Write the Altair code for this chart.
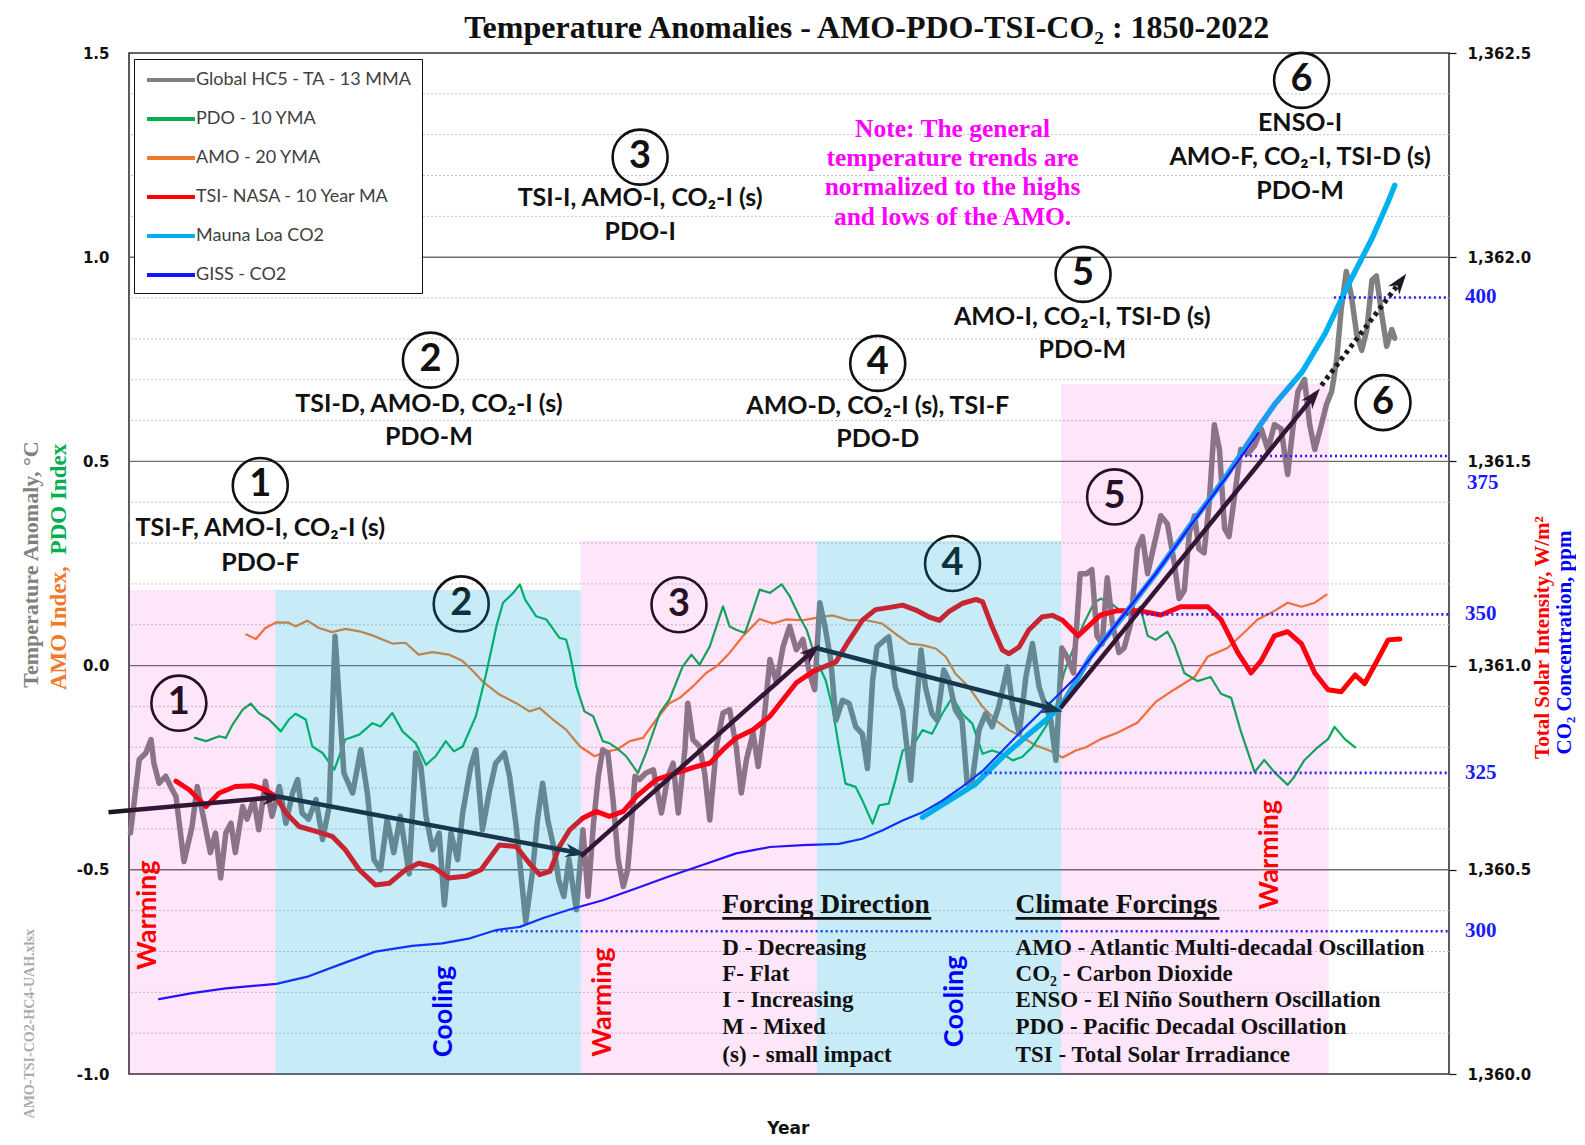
import math
import altair as alt
import pandas as pd

# ---------------- data ----------------
HC5 = [(1850.2,-0.41),(1851.4,-0.23),(1852.3,-0.214),(1853.0,-0.181),(1853.4,-0.239),(1854.1,-0.288),(1855.0,-0.271),
 (1855.9,-0.304),(1856.4,-0.32),(1857.5,-0.48),(1858.6,-0.394),(1859.3,-0.296),(1860.2,-0.376),(1861.1,-0.458),
 (1861.8,-0.41),(1862.5,-0.52),(1863.2,-0.41),(1863.9,-0.386),(1864.5,-0.458),(1865.5,-0.345),(1866.1,-0.376),
 (1867.0,-0.328),(1867.7,-0.402),(1868.6,-0.283),(1869.5,-0.369),(1870.5,-0.296),(1871.4,-0.386),(1872.3,-0.312),
 (1873.0,-0.279),(1873.6,-0.361),(1874.5,-0.376),(1875.5,-0.328),(1876.4,-0.426),(1877.3,-0.345),(1878.1,0.072),
 (1878.6,-0.067),(1879.3,-0.263),(1880.5,-0.312),(1881.6,-0.206),(1882.5,-0.312),(1883.4,-0.475),(1884.3,-0.5),
 (1885.2,-0.376),(1886.1,-0.458),(1887.0,-0.369),(1888.2,-0.51),(1889.1,-0.214),(1889.8,-0.247),(1890.5,-0.369),
 (1891.4,-0.451),(1892.3,-0.41),(1893.0,-0.586),(1893.9,-0.41),(1894.8,-0.475),(1895.5,-0.361),(1896.6,-0.247),
 (1897.3,-0.206),(1898.2,-0.402),(1899.1,-0.312),(1900.0,-0.239),(1901.2,-0.214),(1901.9,-0.271),(1902.8,-0.394),
 (1904.1,-0.627),(1905.0,-0.508),(1905.7,-0.378),(1906.4,-0.288),(1907.1,-0.378),(1908.0,-0.451),(1908.6,-0.525),
 (1909.3,-0.565),(1910.0,-0.475),(1910.4,-0.525),(1911.0,-0.598),(1911.9,-0.402),(1912.6,-0.565),(1913.3,-0.394),
 (1914.0,-0.271),(1914.6,-0.206),(1915.3,-0.214),(1916.0,-0.328),(1916.7,-0.475),(1917.4,-0.541),(1918.0,-0.5),
 (1918.5,-0.394),(1919.0,-0.271),(1919.6,-0.279),(1920.5,-0.263),(1921.5,-0.255),(1922.6,-0.361),(1923.5,-0.271),
 (1924.2,-0.239),(1924.9,-0.361),(1925.8,-0.206),(1926.2,-0.092),(1926.9,-0.181),(1927.8,-0.198),(1928.5,-0.263),
 (1929.2,-0.378),(1930.1,-0.198),(1931.0,-0.116),(1931.9,-0.108),(1932.8,-0.198),(1933.5,-0.312),(1934.2,-0.23),
 (1935.1,-0.165),(1935.8,-0.247),(1936.5,-0.149),(1937.4,0.015),(1938.3,-0.042),(1939.2,0.047),(1940.1,0.096),
 (1941.0,0.039),(1941.9,0.064),(1942.8,-0.018),(1943.5,-0.059),(1944.2,0.154),(1944.9,0.096),(1945.7,0.013),
 (1946.4,-0.134),(1947.3,-0.085),(1948.2,-0.093),(1949.1,-0.15),(1950.0,-0.167),(1950.7,-0.252),(1951.4,-0.036),
 (1952.0,0.046),(1953.0,0.062),(1953.6,0.07),(1954.5,-0.052),(1955.5,-0.109),(1956.6,-0.281),(1957.3,-0.118),
 (1958.0,0.038),(1958.6,-0.052),(1959.5,-0.118),(1960.2,-0.134),(1961.1,-0.011),(1961.8,-0.036),(1962.7,-0.109),
 (1963.6,-0.134),(1964.3,-0.289),(1965.0,-0.281),(1965.9,-0.158),(1966.8,-0.118),(1967.7,-0.15),(1968.6,-0.101),
 (1969.8,-0.003),(1970.5,-0.101),(1971.4,-0.167),(1972.3,-0.028),(1973.2,0.054),(1974.1,-0.052),(1975.0,-0.101),
 (1975.7,-0.134),(1976.4,-0.232),(1977.2,0.043),(1977.9,0.022),(1978.8,-0.018),(1979.7,0.225),(1980.6,0.225),
 (1981.3,0.235),(1982.0,0.073),(1982.7,0.053),(1983.4,0.215),(1984.1,0.103),(1985.0,0.032),(1985.7,0.043),
 (1986.6,0.103),(1987.5,0.286),(1988.2,0.316),(1988.9,0.225),(1989.8,0.296),(1990.7,0.367),(1991.6,0.347),
 (1992.5,0.255),(1993.2,0.164),(1993.9,0.184),(1994.6,0.326),(1995.3,0.367),(1995.9,0.286),(1996.6,0.276),
 (1997.3,0.397),(1998.0,0.59),(1998.7,0.529),(1999.4,0.336),(2000.0,0.316),(2000.7,0.407),(2001.6,0.529),
 (2002.6,0.519),(2003.5,0.539),(2004.4,0.58),(2005.3,0.529),(2006.2,0.59),(2007.1,0.58),(2008.0,0.468),
 (2008.7,0.58),(2009.4,0.671),(2010.3,0.701),(2011.0,0.59),(2011.7,0.529),(2012.6,0.59),(2013.3,0.64),
 (2014.0,0.671),(2014.7,0.752),(2015.3,0.873),(2016.0,0.965),(2016.7,0.904),(2017.4,0.813),(2018.1,0.772),
 (2018.8,0.823),(2019.5,0.944),(2020.1,0.954),(2020.8,0.863),(2021.5,0.782),(2022.2,0.823),(2022.6,0.802)]

PDO = [(1859.0,-0.177),(1860.5,-0.185),(1862.3,-0.173),(1863.2,-0.177),(1864.1,-0.145),(1865.5,-0.108),(1866.6,-0.093),
 (1867.7,-0.116),(1869.1,-0.132),(1870.7,-0.161),(1871.8,-0.132),(1872.7,-0.118),(1874.1,-0.132),(1875.0,-0.198),
 (1876.4,-0.214),(1878.0,-0.255),(1879.5,-0.181),(1881.4,-0.169),(1883.2,-0.141),(1884.3,-0.149),(1885.9,-0.116),
 (1887.3,-0.161),(1889.1,-0.19),(1890.5,-0.243),(1891.8,-0.222),(1893.2,-0.185),(1894.3,-0.21),(1895.5,-0.198),
 (1897.3,-0.124),(1898.7,-0.02),(1900.1,0.096),(1901.0,0.154),(1902.4,0.178),(1903.3,0.199),(1904.0,0.162),
 (1905.5,0.121),(1906.9,0.113),(1908.7,0.068),(1909.6,0.064),(1910.1,0.031),(1911.0,-0.051),(1912.1,-0.112),
 (1913.3,-0.124),(1914.6,-0.185),(1915.5,-0.19),(1916.5,-0.202),(1917.8,-0.222),(1919.4,-0.263),(1920.5,-0.214),
 (1922.4,-0.116),(1923.7,-0.083),(1925.5,-0.002),(1926.7,0.027),(1927.8,0.002),(1929.2,0.047),(1930.1,0.096),
 (1931.0,0.145),(1931.9,0.096),(1932.8,0.088),(1934.0,0.08),(1935.1,0.137),(1936.0,0.186),(1937.4,0.178),
 (1939.0,0.199),(1940.1,0.17),(1941.5,0.117),(1942.4,0.088),(1943.7,0.015),(1945.0,-0.036),(1945.9,-0.101),
 (1946.8,-0.199),(1947.7,-0.289),(1949.1,-0.297),(1950.0,-0.33),(1951.4,-0.387),(1952.3,-0.342),(1953.6,-0.338),
 (1954.5,-0.281),(1955.5,-0.208),(1956.8,-0.199),(1958.2,-0.158),(1959.5,-0.167),(1960.9,-0.118),(1962.3,-0.077),
 (1963.6,-0.118),(1965.0,-0.142),(1966.4,-0.216),(1967.7,-0.208),(1969.1,-0.216),(1970.5,-0.232),(1971.8,-0.224),
 (1973.2,-0.199),(1975.0,-0.15),(1976.4,-0.101),(1977.5,-0.018),(1978.8,0.043),(1980.2,0.103),(1981.6,0.154),
 (1982.5,0.164),(1983.8,0.154),(1985.2,0.134),(1987.0,0.124),(1987.9,0.144),(1988.9,0.073),(1990.0,0.063),
 (1991.6,0.083),(1992.5,0.053),(1993.9,-0.018),(1995.7,-0.038),(1997.5,-0.028),(1998.9,-0.069),(2000.3,-0.079),
 (2001.6,-0.16),(2003.5,-0.261),(2004.8,-0.231),(2006.2,-0.261),(2008.0,-0.292),(2008.9,-0.272),(2010.3,-0.231),
 (2012.1,-0.2),(2013.5,-0.18),(2014.4,-0.15),(2015.8,-0.18),(2017.2,-0.2)]

AMO = [(1866.0,0.076),(1867.3,0.065),(1868.6,0.092),(1870.1,0.106),(1871.8,0.105),(1872.7,0.096),(1874.3,0.11),
 (1875.9,0.092),(1877.7,0.082),(1879.5,0.09),(1881.4,0.084),(1883.2,0.074),(1885.9,0.054),(1887.7,0.056),
 (1889.5,0.027),(1891.4,0.033),(1893.6,0.027),(1895.5,0.011),(1897.0,-0.015),(1898.3,-0.04),(1900.5,-0.071),
 (1902.8,-0.092),(1904.6,-0.112),(1906.0,-0.104),(1907.8,-0.132),(1909.6,-0.157),(1911.5,-0.198),(1913.5,-0.222),
 (1915.1,-0.21),(1916.5,-0.206),(1918.3,-0.185),(1920.1,-0.177),(1921.9,-0.132),(1923.7,-0.092),(1925.1,-0.079),
 (1926.9,-0.051),(1928.7,-0.018),(1930.1,-0.002),(1931.9,0.031),(1933.7,0.072),(1936.0,0.114),(1937.8,0.103),
 (1939.6,0.113),(1941.9,0.111),(1943.7,0.117),(1945.9,0.123),(1948.2,0.111),(1950.5,0.111),(1952.7,0.103),
 (1954.5,0.078),(1956.4,0.054),(1958.2,0.05),(1960.0,0.042),(1961.4,0.021),(1962.7,-0.02),(1964.5,-0.052),
 (1966.4,-0.101),(1968.2,-0.134),(1970.0,-0.158),(1971.8,-0.175),(1973.6,-0.195),(1975.5,-0.208),(1977.3,-0.225),
 (1979.1,-0.208),(1980.5,-0.2),(1982.5,-0.18),(1984.7,-0.165),(1987.5,-0.14),(1990.0,-0.089),(1992.5,-0.059),
 (1995.3,-0.028),(1997.1,0.022),(1999.8,0.043),(2001.6,0.073),(2003.9,0.113),(2006.2,0.134),(2008.0,0.154),
 (2009.9,0.144),(2011.7,0.154),(2013.3,0.174)]

TSI = [(1856.4,1360.717),(1858.2,1360.696),(1860.5,1360.655),(1862.3,1360.688),(1864.5,1360.704),(1866.8,1360.706),
 (1868.6,1360.696),(1870.1,1360.678),(1871.4,1360.639),(1873.2,1360.606),(1875.5,1360.594),(1877.7,1360.582),
 (1879.5,1360.549),(1881.4,1360.500),(1883.6,1360.463),(1885.5,1360.467),(1887.7,1360.500),(1889.5,1360.516),
 (1891.4,1360.508),(1893.6,1360.480),(1895.9,1360.484),(1898.0,1360.500),(1900.5,1360.561),(1902.8,1360.557),
 (1904.6,1360.516),(1906.0,1360.488),(1907.4,1360.496),(1908.7,1360.557),(1910.1,1360.598),(1911.9,1360.627),
 (1913.7,1360.643),(1915.5,1360.631),(1917.4,1360.643),(1919.2,1360.680),(1921.9,1360.721),(1924.6,1360.737),
 (1927.4,1360.753),(1929.2,1360.761),(1931.0,1360.794),(1932.8,1360.823),(1935.1,1360.843),(1937.4,1360.876),
 (1939.2,1360.917),(1941.0,1360.958),(1943.3,1360.986),(1946.4,1361.009),(1948.2,1361.062),(1950.0,1361.111),
 (1951.8,1361.137),(1953.6,1361.142),(1955.5,1361.148),(1957.3,1361.136),(1959.1,1361.119),(1960.5,1361.111),
 (1961.8,1361.132),(1963.6,1361.152),(1965.5,1361.162),(1966.4,1361.156),(1967.7,1361.095),(1969.1,1361.038),
 (1970.0,1361.029),(1971.4,1361.046),(1972.7,1361.087),(1974.5,1361.119),(1975.9,1361.123),(1977.3,1361.111),
 (1979.4,1361.073),(1982.5,1361.124),(1984.7,1361.134),(1987.9,1361.134),(1990.7,1361.124),(1993.4,1361.144),
 (1997.1,1361.144),(1998.9,1361.113),(2001.2,1361.032),(2003.0,1360.982),(2004.4,1361.012),(2006.2,1361.073),
 (2008.0,1361.083),(2009.9,1361.053),(2011.7,1360.982),(2013.5,1360.941),(2015.3,1360.936),(2017.2,1360.977),
 (2018.5,1360.956),(2019.9,1361.002),(2021.7,1361.063),(2023.3,1361.065)]

MLO = [(1958.2,318.0),(1961.8,320.6),(1965.5,323.3),(1969.1,327.5),(1972.7,331.1),(1975.5,333.8),(1977.3,335.9),
 (1981.1,343.3),(1985.7,349.9),(1990.0,356.4),(1994.8,364.2),(1999.4,371.4),(2003.9,379.3),(2006.2,383.1),
 (2010.0,388.3),(2013.1,394.3),(2016.3,402.1),(2019.5,409.3),(2021.7,415.1),(2022.6,417.7)]

GISS = [(1854.1,289.3),(1858.6,290.25),(1863.2,291.0),(1870.1,291.7),(1874.5,292.9),(1879.1,294.9),(1883.6,296.8),
 (1888.6,297.7),(1892.7,298.1),(1896.5,298.9),(1900.1,300.2),(1903.3,300.7),(1906.5,302.1),(1910.0,303.4),
 (1914.6,304.9),(1919.2,306.8),(1923.7,308.7),(1928.3,310.5),(1932.8,312.3),(1937.4,313.3),(1941.9,313.6),
 (1946.8,313.8),(1950.0,314.6),(1952.7,315.9),(1955.5,317.5),(1958.2,318.8),(1960.9,320.6),(1963.6,322.8),
 (1966.4,325.3),(1969.1,328.5),(1971.8,331.7),(1974.5,334.8),(1976.8,337.4),(1979.1,340.1),(1985.0,349.0),
 (1990.0,356.4),(1995.0,364.4),(2000.0,372.2),(2004.0,378.6)]

CO2_REF_PPM = [300, 325, 350, 375, 400]
CO2_REF_FROM = [1900.0, 1966.0, 1986.0, 2001.5, 2014.3]

T_MAJOR = [-0.5, 0.0, 0.5, 1.0]
T_MINOR = [-0.9, -0.8, -0.7, -0.6, -0.4, -0.3, -0.2, -0.1, 0.1, 0.2, 0.3, 0.4,
           0.6, 0.7, 0.8, 0.9, 1.1, 1.2, 1.3, 1.4]

ARROWS = [(1847.2,-0.359,1870.1,-0.322),(1870.1,-0.32,1911.4,-0.459),(1911.6,-0.467,1943.5,0.04),
          (1943.7,0.043,1976.4,-0.108),(1977.0,-0.104,2011.8,0.665)]
ARROW_DOTTED = [(2012.6,0.686,2023.6,0.946)]

SHADE_FROM = [1850.0, 1870.0, 1911.6, 1943.8, 1977.1]
SHADE_TO = [1870.0, 1911.6, 1943.8, 1977.1, 2013.6]
SHADE_TOP = [0.185, 0.185, 0.305, 0.305, 0.69]
SHADE_KIND = ["Warming", "Cooling", "Warming", "Cooling", "Warming"]

PHASE = ["1", "2", "3", "4", "5", "6"]
UPPER_YEAR = [1867.9, 1891.1, 1919.7, 1952.1, 1980.1, 2009.9]
UPPER_VAL = [0.441, 0.748, 1.245, 0.740, 0.958, 1.433]
LOWER_YEAR = [1856.8, 1895.3, 1925.0, 1962.3, 1984.4, 2021.0]
LOWER_VAL = [-0.092, 0.151, 0.149, 0.250, 0.413, 0.644]

PHASE_TEXT = ["TSI-F, AMO-I, CO\u2082-I (s)", "PDO-F",
              "TSI-D, AMO-D, CO\u2082-I (s)", "PDO-M",
              "TSI-I, AMO-I, CO\u2082-I (s)", "PDO-I",
              "AMO-D, CO\u2082-I (s), TSI-F", "PDO-D",
              "AMO-I, CO\u2082-I, TSI-D (s)", "PDO-M",
              "ENSO-I", "AMO-F, CO\u2082-I, TSI-D (s)", "PDO-M"]
PHASE_TEXT_YEAR = [1867.9, 1867.9, 1890.9, 1890.9, 1919.7, 1919.7, 1952.1, 1952.1,
                   1980.0, 1980.0, 2009.7, 2009.7, 2009.7]
PHASE_TEXT_VAL = [0.337, 0.252, 0.641, 0.559, 1.144, 1.062, 0.636, 0.554,
                  0.854, 0.772, 1.329, 1.245, 1.161]

NOTE = ["Note: The general", "temperature trends are", "normalized to the highs", "and lows of the AMO."]
NOTE_YEAR = 1962.3
NOTE_VAL = [1.314, 1.243, 1.171, 1.099]

HEADERS = ["Forcing Direction", "Climate Forcings"]
HEADER_YEAR = [1930.9, 1970.9]
HEADER_END = [1959.4, 1998.7]
HEADER_VAL = -0.587
UNDERLINE_VAL = -0.619
DIRECTION = ["D - Decreasing", "F- Flat", "I - Increasing", "M - Mixed", "(s) - small impact"]
FORCINGS = ["AMO - Atlantic Multi-decadal Oscillation", "CO\u2082 - Carbon Dioxide",
            "ENSO - El Ni\u00f1o Southern Oscillation", "PDO - Pacific Decadal Oscillation",
            "TSI - Total Solar Irradiance"]
LIST_VAL = [-0.691, -0.755, -0.819, -0.886, -0.953]

TREND_TEXT = ["Warming", "Cooling", "Warming", "Cooling", "Warming"]
TREND_YEAR = [1852.6, 1893.0, 1914.7, 1962.6, 2005.6]
TREND_VAL = [-0.611, -0.847, -0.824, -0.822, -0.463]

TITLE = "Temperature Anomalies - AMO-PDO-TSI-CO\u2082 : 1850-2022"
TITLE_POS = (1950.6, 1.5367)
XTITLE = "Year"
XTITLE_POS = (1939.9, -1.1335)

SERIES = ["Global HC5 - TA - 13 MMA", "PDO - 10 YMA", "AMO - 20 YMA",
          "TSI- NASA - 10 Year MA", "Mauna Loa CO2", "GISS - CO2"]
SERIES_COLORS = ["#808080", "#00b050", "#f07a2a", "#ff0000", "#00b0f0", "#1414ff"]

# ---------------- scales / axes ----------------
W, H = 1320, 1021
X_SCALE = alt.Scale(domain=[1850, 2030], nice=False, zero=False)
T_SCALE = alt.Scale(domain=[-1.0, 1.5], nice=False, zero=False)
TSI_SCALE = alt.Scale(domain=[1360.0, 1362.5], nice=False, zero=False)
CO2_SCALE = alt.Scale(domain=[277.49, 438.57], nice=False, zero=False)
COLOR_SCALE = alt.Scale(domain=SERIES, range=SERIES_COLORS)

SERIF = "Liberation Serif"
SANS = "Lato"
TICKFONT = "DejaVu Sans"

LEGEND = alt.Legend(title=None, orient="none", legendX=5, legendY=6,
                    symbolType="M-0.8,0L4,0", symbolSize=400, symbolStrokeWidth=4,
                    symbolOpacity=1, labelFont=SANS, labelFontSize=18, labelColor="#404040",
                    labelOffset=29, rowPadding=18, padding=9, labelLimit=400,
                    strokeColor="#111111", fillColor="white")

X_AXIS = alt.Axis(values=list(range(1850, 2031, 20)), format="d", grid=True,
                  gridColor="#000000", gridWidth=1.1, ticks=False, domain=False,
                  labelFont=TICKFONT, labelFontSize=15, labelFontWeight="bold", labelColor="#111111",
                  labelPadding=18, title=None)

T_AXIS = alt.Axis(orient="left", values=[-1.0, -0.5, 0.0, 0.5, 1.0, 1.5], format=".1f",
                  labelExpr="replace(datum.label, '\u2212', '-')",
                  grid=False, ticks=False, domain=False,
                  labelFont=TICKFONT, labelFontSize=15, labelFontWeight="bold", labelColor="#111111",
                  labelPadding=20, title="Temperature Anomaly, \u00b0C", titleColor="#808080",
                  titleFont=SERIF, titleFontSize=22, titleFontWeight="bold", titleAngle=270,
                  titleX=-99, titleY=511, titleBaseline="middle", titleAlign="center")

TSI_AXIS = alt.Axis(orient="right", values=[1360.0, 1360.5, 1361.0, 1361.5, 1362.0, 1362.5],
                    format=",.1f", grid=False, ticks=True, tickSize=7, tickColor="#111111",
                    tickWidth=1.2, domain=False, labelFont=TICKFONT, labelFontSize=15,
                    labelFontWeight="bold", labelColor="#111111", labelPadding=11,
                    title="Total Solar Intensity, W/m\u00b2", titleColor="#ff0000", titleFont=SERIF,
                    titleFontSize=21, titleFontWeight="bold", titleAngle=270, titleX=93,
                    titleY=584, titleBaseline="middle", titleAlign="center")

CO2_AXIS = alt.Axis(orient="right", values=CO2_REF_PPM, grid=False, ticks=False, domain=False,
                    labels=False,
                    title="CO\u2082 Concentration, ppm", titleColor="#0000ff", titleFont=SERIF,
                    titleFontSize=21, titleFontWeight="bold", titleAngle=270, titleX=115,
                    titleY=589, titleBaseline="middle", titleAlign="center")

XN = lambda f: alt.X(f, scale=X_SCALE, axis=None)
YT = lambda f: alt.Y(f, scale=T_SCALE, axis=None)


def series_df(pairs, name, col):
    return pd.DataFrame({"year": [p[0] for p in pairs], col: [p[1] for p in pairs], "series": name})


def line(df, col, yscale, width, yaxis=None, xaxis=None):
    return alt.Chart(df).mark_line(strokeWidth=width, strokeJoin="round", strokeCap="round").encode(
        x=alt.X("year:Q", scale=X_SCALE, axis=xaxis),
        y=alt.Y(f"{col}:Q", scale=yscale, axis=yaxis),
        color=alt.Color("series:N", scale=COLOR_SCALE, legend=LEGEND),
    )


grid_minor = alt.Chart(pd.DataFrame({"v": T_MINOR})).mark_rule(
    color="#c4c4c4", strokeWidth=1, strokeDash=[2, 2]).encode(y=YT("v:Q"))
grid_major = alt.Chart(pd.DataFrame({"v": T_MAJOR})).mark_rule(
    color="#6e6e6e", strokeWidth=1.4).encode(y=YT("v:Q"))

amo_l = line(series_df(AMO, SERIES[2], "val"), "val", T_SCALE, 2.2, yaxis=T_AXIS, xaxis=X_AXIS)
pdo_l = line(series_df(PDO, SERIES[1], "val"), "val", T_SCALE, 2.2)
hc5_l = line(series_df(HC5, SERIES[0], "val"), "val", T_SCALE, 5.5)
tsi_l = line(series_df(TSI, SERIES[3], "tsi"), "tsi", TSI_SCALE, 5, yaxis=TSI_AXIS)
mlo_l = line(series_df(MLO, SERIES[4], "ppm"), "ppm", CO2_SCALE, 5.5, yaxis=CO2_AXIS)
giss_l = line(series_df(GISS, SERIES[5], "ppm"), "ppm", CO2_SCALE, 2.2)

ref_df = pd.DataFrame({"from": CO2_REF_FROM, "ppm": CO2_REF_PPM})
ref_r = alt.Chart(ref_df).mark_rule(color="#2020ff", strokeWidth=2.6, strokeDash=[2, 3]).encode(
    x=XN("from:Q"), x2=alt.datum(2030), y=alt.Y("ppm:Q", scale=CO2_SCALE, axis=None))
co2_lab = alt.Chart(ref_df).transform_filter("datum.ppm != 375").mark_text(
    font=SERIF, fontSize=21, fontWeight="bold", color="#1a1aff", align="left", baseline="middle",
    dx=16).encode(x=alt.datum(2030), y=alt.Y("ppm:Q", scale=CO2_SCALE, axis=None), text="ppm:Q")
co2_lab2 = alt.Chart(ref_df).transform_filter("datum.ppm == 375").mark_text(
    font=SERIF, fontSize=21, fontWeight="bold", color="#1a1aff", align="left", baseline="middle",
    dx=18, dy=27).encode(x=alt.datum(2030), y=alt.Y("ppm:Q", scale=CO2_SCALE, axis=None), text="ppm:Q")

PX_YEAR = W / 180.0
PX_UNIT = H / 2.5


def head_angle(a):
    dx = (a[2] - a[0]) * PX_YEAR
    dy = (a[3] - a[1]) * PX_UNIT
    return math.degrees(math.atan2(dx, dy)) % 360


arr_df = pd.DataFrame(ARROWS, columns=["x1", "y1", "x2", "y2"])
dot_df = pd.DataFrame(ARROW_DOTTED, columns=["x1", "y1", "x2", "y2"])
all_arrows = ARROWS + ARROW_DOTTED
head_df = pd.DataFrame({"x": [a[2] for a in all_arrows], "y": [a[3] for a in all_arrows],
                        "ang": [head_angle(a) for a in all_arrows]})
ARROW_COLOR = "#1e1824"

arrows = alt.Chart(arr_df).mark_rule(color=ARROW_COLOR, strokeWidth=4.5).encode(
    x=XN("x1:Q"), y=YT("y1:Q"), x2="x2:Q", y2="y2:Q")
arrows_dot = alt.Chart(dot_df).mark_rule(color=ARROW_COLOR, strokeWidth=5, strokeDash=[4, 4]).encode(
    x=XN("x1:Q"), y=YT("y1:Q"), x2="x2:Q", y2="y2:Q")
heads = alt.Chart(head_df).mark_point(shape="M0,-0.5L0.5,1.0L0,0.55L-0.5,1.0Z", filled=True,
                                      size=784, color=ARROW_COLOR, opacity=1).encode(
    x=XN("x:Q"), y=YT("y:Q"), angle=alt.Angle("ang:Q", scale=None))

low_df = pd.DataFrame({"x": LOWER_YEAR, "y": LOWER_VAL, "t": PHASE})
up_df = pd.DataFrame({"x": UPPER_YEAR, "y": UPPER_VAL, "t": PHASE})


def circles(df):
    return alt.Chart(df).mark_point(shape="circle", filled=False, size=3025, strokeWidth=2.6,
                                    color="#111111", opacity=1).encode(x=XN("x:Q"), y=YT("y:Q"))


def texts(df, font, size, color, weight="bold", align="center", angle=0, dy=0, baseline="middle"):
    return alt.Chart(df).mark_text(font=font, fontSize=size, fontWeight=weight, color=color,
                                   align=align, baseline=baseline, angle=angle, dy=dy).encode(
        x=XN("x:Q"), y=YT("y:Q"), text="t:N")


shade_df = pd.DataFrame({"x": SHADE_FROM, "x2": SHADE_TO, "top": SHADE_TOP, "kind": SHADE_KIND})
shade_warm = alt.Chart(shade_df).transform_filter("datum.kind == 'Warming'").mark_rect(
    color="#eb05cd", fillOpacity=0.1, strokeWidth=0).encode(
    x=XN("x:Q"), x2="x2:Q", y=YT("top:Q"), y2=alt.datum(-1.0))
shade_cool = alt.Chart(shade_df).transform_filter("datum.kind == 'Cooling'").mark_rect(
    color="#00a8df", fillOpacity=0.22, strokeWidth=0).encode(
    x=XN("x:Q"), x2="x2:Q", y=YT("top:Q"), y2=alt.datum(-1.0))

phase_df = pd.DataFrame({"x": PHASE_TEXT_YEAR, "y": PHASE_TEXT_VAL, "t": PHASE_TEXT})
note_df = pd.DataFrame({"x": [NOTE_YEAR] * len(NOTE), "y": NOTE_VAL, "t": NOTE})
head_txt_df = pd.DataFrame({"x": HEADER_YEAR, "y": [HEADER_VAL] * 2, "t": HEADERS})
under_df = pd.DataFrame({"x": HEADER_YEAR, "x2": HEADER_END, "y": [UNDERLINE_VAL] * 2})
dir_df = pd.DataFrame({"x": [HEADER_YEAR[0]] * 5, "y": LIST_VAL, "t": DIRECTION})
forc_df = pd.DataFrame({"x": [HEADER_YEAR[1]] * 5, "y": LIST_VAL, "t": FORCINGS})
trend_df = pd.DataFrame({"x": TREND_YEAR, "y": TREND_VAL, "t": TREND_TEXT})
title_df = pd.DataFrame({"x": [TITLE_POS[0]], "y": [TITLE_POS[1]], "t": [TITLE]})
xtitle_df = pd.DataFrame({"x": [XTITLE_POS[0]], "y": [XTITLE_POS[1]], "t": [XTITLE]})

underline = alt.Chart(under_df).mark_rule(color="#111111", strokeWidth=2.6).encode(
    x=XN("x:Q"), x2="x2:Q", y=YT("y:Q"))

warm_txt = texts(trend_df[trend_df.t == "Warming"], SANS, 27, "#ff0000", angle=270)
cool_txt = texts(trend_df[trend_df.t == "Cooling"], SANS, 27, "#0000ff", angle=270)

side1 = texts(pd.DataFrame({"x": [1840.4], "y": [-0.06], "t": ["AMO Index,"]}), SERIF, 23,
              "#f07a2a", align="left", angle=270)
side2 = texts(pd.DataFrame({"x": [1840.4], "y": [0.543], "t": ["PDO Index"]}), SERIF, 23,
              "#00b050", align="right", angle=270)
side3 = texts(pd.DataFrame({"x": [1836.5], "y": [-0.877], "t": ["AMO-TSI-CO2-HC4-UAH.xlsx"]}),
              SERIF, 14, "#ababab", angle=270)

layers = [
    grid_minor, grid_major,
    amo_l, pdo_l, hc5_l, tsi_l, mlo_l, giss_l, ref_r, co2_lab, co2_lab2,
    arrows, arrows_dot, heads,
    circles(low_df), texts(low_df, SANS, 38, "#111111"),
    shade_warm, shade_cool,
    circles(up_df), texts(up_df, SANS, 38, "#111111"),
    texts(phase_df, SANS, 25, "#111111"),
    texts(note_df, SERIF, 25.5, "#ff00ff"),
    texts(head_txt_df, SERIF, 27.5, "#111111", align="left"),
    underline,
    texts(dir_df, SERIF, 23, "#111111", align="left"),
    texts(forc_df, SERIF, 23, "#111111", align="left"),
    warm_txt, cool_txt, side1, side2, side3,
    texts(title_df, SERIF, 32, "#111111", baseline="alphabetic"),
    texts(xtitle_df, TICKFONT, 17, "#111111"),
]

chart = alt.layer(*layers).resolve_scale(y="independent").properties(
    width=W, height=H, autosize="none",
    padding={"left": 121, "top": 45, "right": 127, "bottom": 63},
    background="white",
).configure_view(stroke="#333333", strokeWidth=1.6)

chart.save("out.html", embed_options={"renderer": "svg", "actions": False})
